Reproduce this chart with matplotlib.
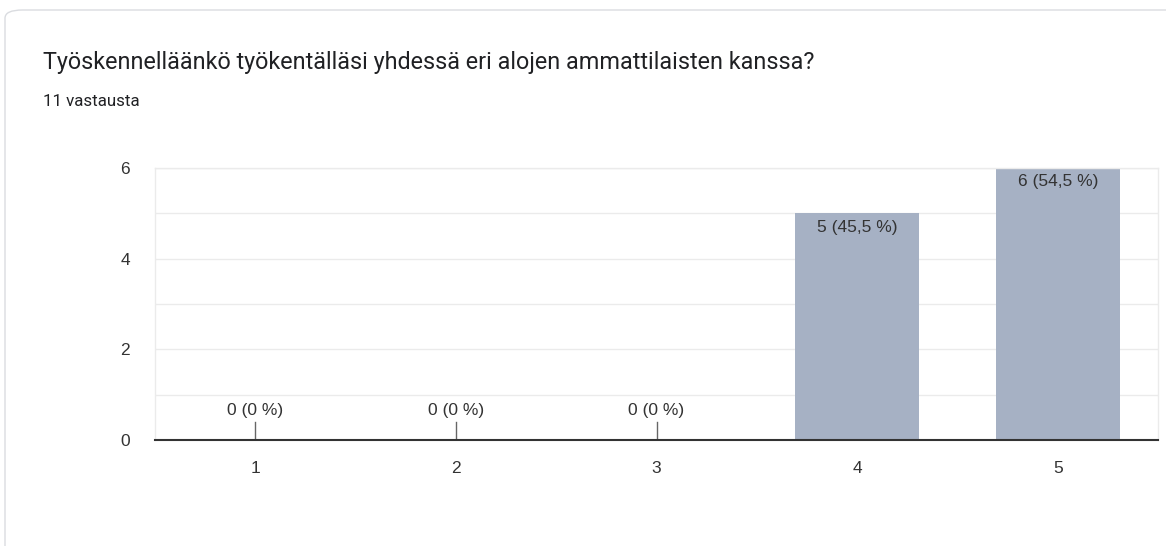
import matplotlib
matplotlib.use("Agg")
import matplotlib.pyplot as plt
from matplotlib.patches import FancyBboxPatch

categories = ["1", "2", "3", "4", "5"]
counts = [0, 0, 0, 5, 6]
labels = ["0 (0 %)", "0 (0 %)", "0 (0 %)", "5 (45,5 %)", "6 (54,5 %)"]
title = "Työskennelläänkö työkentälläsi yhdessä eri alojen ammattilaisten kanssa?"
subtitle = "11 vastausta"

plt.rcParams['font.family'] = ['Roboto', 'DejaVu Sans']
chart_font = ['Liberation Sans', 'DejaVu Sans']

W, H = 1166, 546
fig = plt.figure(figsize=(W / 100, H / 100), dpi=100)

# card border
card = FancyBboxPatch((5 / W, -0.1), 1.2, (H - 10) / H + 0.1,
                      boxstyle="round,pad=0,rounding_size=0.015",
                      transform=fig.transFigure, facecolor="white",
                      edgecolor="#dadce0", linewidth=1.0, zorder=-5)
fig.patches.append(card)

fig.text(43 / W, 1 - 62 / H, title, fontsize=16.8, color="#202124", va="center", ha="left")
fig.text(43 / W, 1 - 101 / H, subtitle, fontsize=12.2, color="#202124", va="center", ha="left")

ax = fig.add_axes([155 / W, 106 / H, 1003 / W, 272 / H])
ax.set_zorder(2)
x = list(range(1, len(categories) + 1))
ax.bar(x, counts, width=0.62, color="#a6b1c4", zorder=2)
ax.set_xlim(0.5, 5.5)
ax.set_ylim(0, 6)
ax.set_xticks(x)
ax.set_xticklabels(categories, family=chart_font)
ax.set_yticks([0, 2, 4, 6])
ax.set_yticklabels(["0", "2", "4", "6"], family=chart_font)
ax.set_yticks([1, 3, 5], minor=True)
ax.grid(axis="y", which="both", color="#ebebeb", linewidth=1, zorder=0)
ax.tick_params(axis="both", which="both", length=0, labelsize=12.5, colors="#333333")
ax.tick_params(axis="x", pad=15)
ax.tick_params(axis="y", pad=18)
for s in ["top", "right", "left"]:
    ax.spines[s].set_color("#ebebeb")
    ax.spines[s].set_linewidth(1)
ax.spines["bottom"].set_color("#333333")
ax.spines["bottom"].set_linewidth(1.5)
ax.spines["bottom"].set_zorder(3)

for xi, c, lab in zip(x, counts, labels):
    if c == 0:
        ax.plot([xi, xi], [0, 0.4], color="#666666", linewidth=1, zorder=3)
        ax.annotate(lab, (xi, 0), xytext=(0, 21), textcoords="offset points",
                    ha="center", va="center", fontsize=12.5, color="#333333",
                    family=chart_font)
    else:
        ax.annotate(lab, (xi, c), xytext=(0, -10), textcoords="offset points",
                    ha="center", va="center", fontsize=12.5, color="#333333",
                    family=chart_font, zorder=4)

fig.savefig("out.png", dpi=100, facecolor="white")
